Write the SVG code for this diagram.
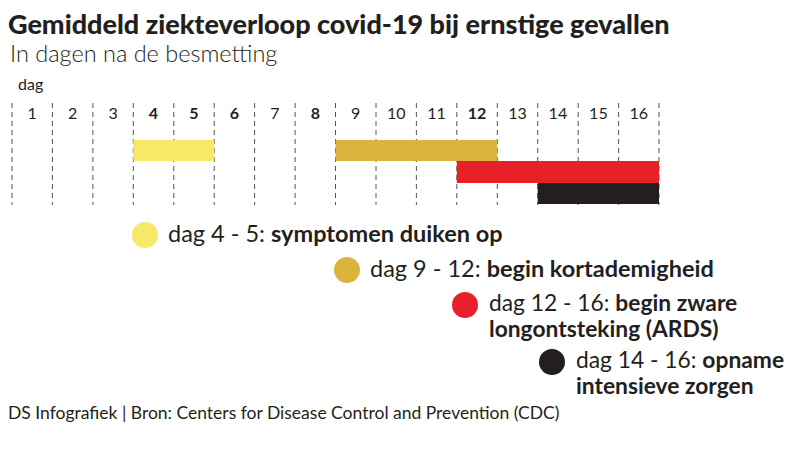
<svg xmlns="http://www.w3.org/2000/svg" width="796" height="459" viewBox="0 0 796 459">
<style>
text{font-family:Lato,"Noto Sans",sans-serif;fill:#231f20}
.t{font-size:27px;font-weight:900}
.s{font-size:23.5px;font-weight:300}
.d{font-size:16px;text-anchor:middle;font-weight:400}
.db{font-weight:700}
.g{stroke:#555;stroke-width:1;stroke-dasharray:5,4}
.l{font-size:23.5px;font-weight:400}
.l2{font-size:22.8px}
.b{font-weight:700}
.f{font-size:17.5px;font-weight:400}
</style>
<rect width="796" height="459" fill="#fff"/>
<g id="title">
<text class="t" x="8" y="34">Gemiddeld ziekteverloop covid-19 bij ernstige gevallen</text>
<text class="s" x="10" y="62">In dagen na de besmetting</text>
</g>
<g id="axis">
<text x="18" y="90" style="font-size:16px;font-weight:400">dag</text>
<g class="g">
<line x1="12" y1="103" x2="12" y2="205"/>
<line x1="52.4" y1="103" x2="52.4" y2="205"/>
<line x1="92.9" y1="103" x2="92.9" y2="205"/>
<line x1="133.3" y1="103" x2="133.3" y2="205"/>
<line x1="173.8" y1="103" x2="173.8" y2="205"/>
<line x1="214.2" y1="103" x2="214.2" y2="205"/>
<line x1="254.6" y1="103" x2="254.6" y2="205"/>
<line x1="295.1" y1="103" x2="295.1" y2="205"/>
<line x1="335.5" y1="103" x2="335.5" y2="205"/>
<line x1="376" y1="103" x2="376" y2="205"/>
<line x1="416.4" y1="103" x2="416.4" y2="205"/>
<line x1="456.8" y1="103" x2="456.8" y2="205"/>
<line x1="497.3" y1="103" x2="497.3" y2="205"/>
<line x1="537.7" y1="103" x2="537.7" y2="205"/>
<line x1="578.2" y1="103" x2="578.2" y2="205"/>
<line x1="618.6" y1="103" x2="618.6" y2="205"/>
<line x1="659" y1="103" x2="659" y2="205"/>
</g>
<text class="d" x="32.2" y="119">1</text>
<text class="d" x="72.7" y="119">2</text>
<text class="d" x="113.1" y="119">3</text>
<text class="d db" x="153.5" y="119">4</text>
<text class="d db" x="194" y="119">5</text>
<text class="d db" x="234.4" y="119">6</text>
<text class="d" x="274.9" y="119">7</text>
<text class="d db" x="315.3" y="119">8</text>
<text class="d" x="355.7" y="119">9</text>
<text class="d" x="396.2" y="119">10</text>
<text class="d" x="436.6" y="119">11</text>
<text class="d db" x="477.1" y="119">12</text>
<text class="d" x="517.5" y="119">13</text>
<text class="d" x="557.9" y="119">14</text>
<text class="d" x="598.4" y="119">15</text>
<text class="d" x="638.8" y="119">16</text>
</g>
<g id="bars">
<rect x="133.3" y="140" width="80.9" height="21" fill="#f7e967"/>
<rect x="335.5" y="140" width="161.8" height="21" fill="#dbb43f"/>
<rect x="456.8" y="161" width="202.2" height="22" fill="#e8202a"/>
<rect x="537.7" y="183" width="121.3" height="21" fill="#231f20"/>
</g>
<g id="legend-1">
<circle cx="145" cy="235" r="13" fill="#f7e967"/>
<text class="l" x="168" y="242">dag 4 - 5: <tspan class="b">symptomen duiken op</tspan></text>
</g>
<g id="legend-2">
<circle cx="347" cy="270" r="13" fill="#dbb43f"/>
<text class="l" x="370" y="277">dag 9 - 12: <tspan class="b">begin kortademigheid</tspan></text>
</g>
<g id="legend-3">
<circle cx="465" cy="305" r="13" fill="#e8202a"/>
<text class="l l2" x="489" y="311">dag 12 - 16: <tspan class="b">begin zware</tspan></text>
<text class="l l2 b" x="489" y="337">longontsteking (ARDS)</text>
</g>
<g id="legend-4">
<circle cx="552" cy="362" r="13" fill="#231f20"/>
<text class="l l2" x="576" y="368">dag 14 - 16: <tspan class="b">opname</tspan></text>
<text class="l l2 b" x="576" y="394">intensieve zorgen</text>
</g>
<g id="footer">
<text class="f" x="8" y="419">DS Infografiek | Bron: Centers for Disease Control and Prevention (CDC)</text>
</g>
</svg>
